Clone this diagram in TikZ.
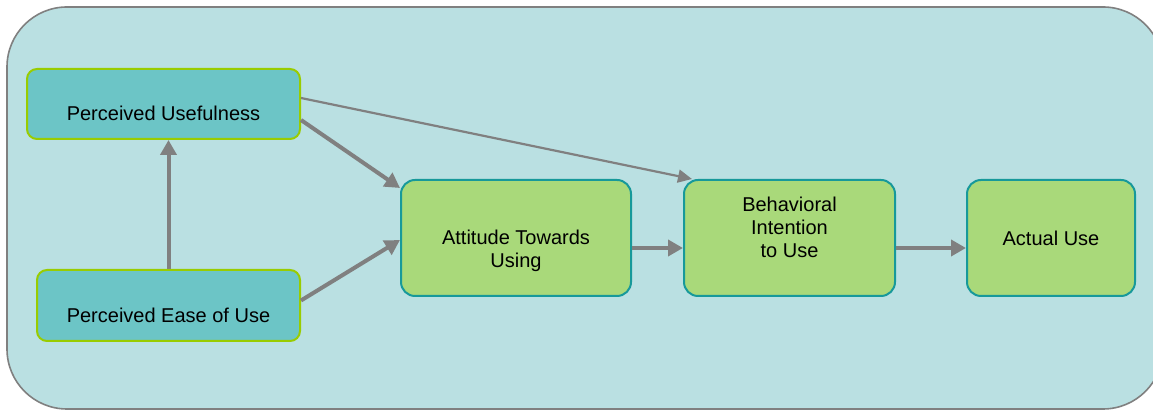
\documentclass[tikz,border=0pt]{standalone}
\usepackage{fontspec}
\setmainfont{Liberation Sans}
\usetikzlibrary{arrows.meta}
\definecolor{panelfill}{HTML}{BAE0E2}
\definecolor{tealfill}{HTML}{6CC5C6}
\definecolor{limeline}{HTML}{99CC00}
\definecolor{greenfill}{HTML}{A9D97A}
\definecolor{tealline}{HTML}{17999A}
\definecolor{arrowgray}{HTML}{808080}
\tikzset{
    factorbox/.style={draw=limeline, fill=tealfill, line width=1pt, rounded corners=5pt},
    stagebox/.style={draw=tealline, fill=greenfill, line width=1pt, rounded corners=7pt},
    boxtext/.style={align=center, font=\fontsize{10}{11.5}\selectfont},
    link/.style={draw=arrowgray, line width=2pt, -{Triangle[length=7.5pt,width=8pt]}},
    thinlink/.style={draw=arrowgray, line width=1.1pt, -{Triangle[length=7pt,width=6.5pt]}}
}
\begin{document}
\begin{tikzpicture}[x=0.5pt,y=-0.5pt]
    \useasboundingbox (0,0) rectangle (1153,410);
    % panel behind the model
    \draw[draw=arrowgray, fill=panelfill, line width=0.8pt, rounded corners=30pt] (7,7) rectangle (1163,409);

    % boxes
    \node[factorbox, minimum width=136.5pt, minimum height=35pt,
        label={[boxtext, yshift=-4.5pt]center:Perceived Usefulness}] (pu) at (163.5,104) {};
    \node[factorbox, minimum width=131.5pt, minimum height=35.5pt,
        label={[boxtext, yshift=-4.75pt]center:Perceived Ease of Use}] (peou) at (168.5,305.5) {};
    \node[stagebox, minimum width=115pt, minimum height=58pt,
        label={[boxtext, yshift=-6.5pt]center:Attitude Towards\\Using}] (atu) at (516,238) {};
    \node[stagebox, minimum width=105.5pt, minimum height=58pt,
        label={[boxtext, yshift=5.5pt]center:Behavioral\\Intention\\to Use}] (bi) at (789.5,238) {};
    \node[stagebox, minimum width=84pt, minimum height=58pt,
        label={[boxtext]center:Actual Use}] (au) at (1051,238) {};

    % arrows
    \draw[link] (peou.north) -- (peou.north |- pu.south);
    \draw[link] ([yshift=-8pt]pu.east) -- ([yshift=25pt]atu.west);
    \draw[link] ([yshift=2.5pt]peou.east) -- ([yshift=-1pt]atu.west);
    \draw[thinlink] ([yshift=3pt]pu.east) -- ([xshift=4.5pt]bi.north west);
    \draw[link] ([yshift=-5pt]atu.east) -- ([yshift=-5pt]bi.west);
    \draw[link] ([yshift=-5pt]bi.east) -- ([yshift=-5pt]au.west);
\end{tikzpicture}
\end{document}
